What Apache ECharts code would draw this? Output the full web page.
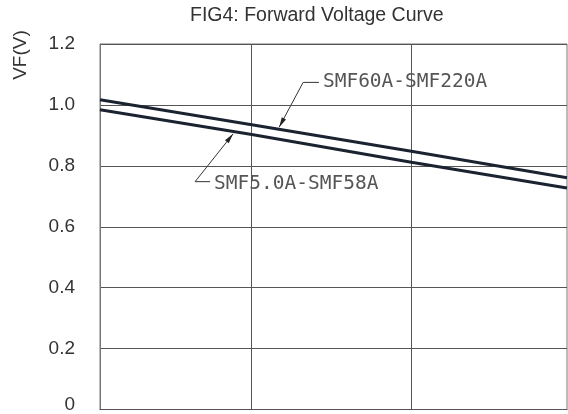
<!DOCTYPE html>
<html>
<head>
<meta charset="utf-8">
<script src="https://cdn.jsdelivr.net/npm/echarts@6/dist/echarts.min.js"></script>
<style>html,body{margin:0;padding:0;background:#fff}#c{width:568px;height:414px}</style>
</head>
<body>
<div id="c"></div>
<script>
// ---- data ----
const xPoints = [0, 0.975, 2.0, 3.0];             // sample positions (grid columns)
const upperValues = [1.017, 0.935, 0.848, 0.761]; // SMF60A-SMF220A
const lowerValues = [0.984, 0.903, 0.812, 0.727]; // SMF5.0A-SMF58A
const verticalGridX = [0.975, 2.0];
const yTicks = [0, 0.2, 0.4, 0.6, 0.8, 1.0, 1.2];
const seriesNames = ['SMF60A-SMF220A', 'SMF5.0A-SMF58A'];
const titleText = 'FIG4: Forward Voltage Curve';
const yName = 'VF(V)';

// annotation anchors in data space: arrow tip, elbow, text start
const annotations = [
  { text: seriesNames[0], tip: [1.151, 0.927], elbow: [1.305, 1.074], textAt: [1.432, 1.075] },
  { text: seriesNames[1], tip: [0.855, 0.905], elbow: [0.611, 0.748], textAt: [0.733, 0.739] }
];

const lineColor = '#1c2330';
const gridColor = '#555';

function pairs(xs, ys) { return xs.map((x, i) => [x, ys[i]]); }

const chart = echarts.init(document.getElementById('c'), null, { renderer: 'canvas' });
chart.setOption({
  animation: false,
  title: {
    text: titleText, left: 190, top: 6, padding: 0,
    textStyle: { fontFamily: 'Liberation Sans', fontSize: 19.5, fontWeight: 'normal', color: '#333' }
  },
  grid: { left: 100, right: 1, top: 44, bottom: 3, show: true, borderColor: '#777', borderWidth: 1, backgroundColor: 'transparent' },
  xAxis: {
    type: 'value', min: 0, max: 3,
    axisLine: { show: true, lineStyle: { color: gridColor } },
    axisTick: { show: false }, axisLabel: { show: false }, splitLine: { show: false }
  },
  yAxis: {
    type: 'value', min: yTicks[0], max: yTicks[yTicks.length - 1], interval: 0.2,
    axisLine: { show: true, lineStyle: { color: '#777' } },
    axisTick: { show: false },
    splitLine: { show: true, lineStyle: { color: gridColor, width: 1 } },
    axisLabel: {
      margin: 25, fontFamily: 'Liberation Sans', fontSize: 19, color: '#333',
      formatter: v => (v === 0 ? '{z|0}' : v.toFixed(1)),
      rich: { z: { fontFamily: 'Liberation Sans', fontSize: 19, color: '#333', padding: [0, 0, 10, 0] } }
    }
  },
  series: [
    {
      name: seriesNames[0], type: 'line', data: pairs(xPoints, upperValues),
      symbol: 'none', lineStyle: { color: lineColor, width: 3 }, z: 5,
      markLine: {
        silent: true, symbol: 'none', label: { show: false },
        lineStyle: { color: gridColor, width: 1, type: 'solid' },
        data: verticalGridX.map(x => ({ xAxis: x }))
      }
    },
    {
      name: seriesNames[1], type: 'line', data: pairs(xPoints, lowerValues),
      symbol: 'none', lineStyle: { color: lineColor, width: 3 }, z: 5
    }
  ]
});

// annotations (leader + arrow + label), positioned via the chart's own scales
const toPx = p => chart.convertToPixel({ gridIndex: 0 }, p);
const graphics = [{
  type: 'text', x: 21, y: 55, rotation: Math.PI / 2,
  style: { text: yName, fontFamily: 'Liberation Sans', fontSize: 19, fill: '#333', align: 'center', verticalAlign: 'middle' }
}];
annotations.forEach(a => {
  const tip = toPx(a.tip), elbow = toPx(a.elbow), tx = toPx(a.textAt);
  const lead = [tx[0] - 4, elbow[1]];
  graphics.push({
    type: 'polyline', shape: { points: [tip, elbow, lead] },
    style: { stroke: '#333', lineWidth: 1, fill: null }, z: 10
  });
  const dx = tip[0] - elbow[0], dy = tip[1] - elbow[1];
  const len = Math.hypot(dx, dy), ux = dx / len, uy = dy / len;
  const L = 10, W = 2.4;
  const bx = tip[0] - ux * L, by = tip[1] - uy * L;
  graphics.push({
    type: 'polygon',
    shape: { points: [tip, [bx - uy * W, by + ux * W], [bx + uy * W, by - ux * W]] },
    style: { fill: '#222' }, z: 10
  });
  graphics.push({
    type: 'text', x: tx[0], y: tx[1],
    style: { text: a.text, fontFamily: 'DejaVu Sans Mono', fontSize: 19.5, fill: '#555', align: 'left', verticalAlign: 'middle' },
    z: 10
  });
});
chart.setOption({ graphic: graphics });
</script>
</body>
</html>
